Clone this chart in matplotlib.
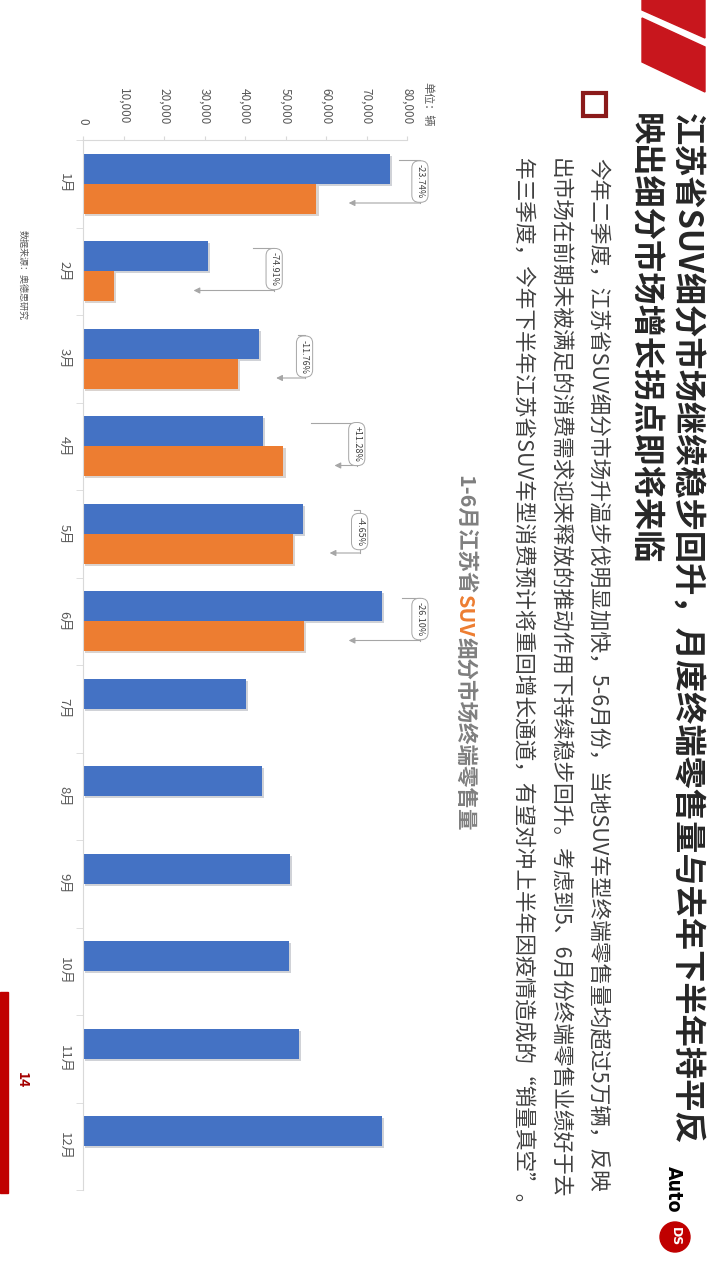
import numpy as np
import matplotlib
matplotlib.use('Agg')
import matplotlib.pyplot as plt
import matplotlib.patheffects as pe
from matplotlib.patches import Polygon, Rectangle, Ellipse

plt.rcParams['font.family'] = ['Noto Sans CJK SC', 'DejaVu Sans']

# data (units: vehicles)
months = ['1月', '2月', '3月', '4月', '5月', '6月',
          '7月', '8月', '9月', '10月', '11月', '12月']
sales_2019 = [75780, 30800, 43480, 44470, 54410, 73790,
              40250, 44220, 51180, 50930, 53420, 73790]
sales_2020 = [57640, 7730, 38370, 49490, 51880, 54530]
yoy_labels = ['-23.74%', '-74.91%', '-11.76%', '+11.28%', '-4.65%', '-26.10%']

# elbow connectors for the yoy notes (x in value units)
ann_start = [78000, 42000, 53200, 56400, 66800, 78800]
ann_mid = [83200, 47200, 54700, 67600, 68300, 83200]
ann_end = [65600, 27300, 47700, 62100, 60900, 65600]

title_lines = ['江苏省SUV细分市场继续稳步回升，月度终端零售量与去年下半年持平反',
               '映出细分市场增长拐点即将来临']
body_lines = ['今年二季度，江苏省SUV细分市场升温步伐明显加快，5-6月份，当地SUV车型终端零售量均超过5万辆，反映',
              '出市场在前期未被满足的消费需求迎来释放的推动作用下持续稳步回升。考虑到5、6月份终端零售业绩好于去',
              '年三季度，今年下半年江苏省SUV车型消费预计将重回增长通道，有望对冲上半年因疫情造成的“销量真空”。']

BLUE = '#4472C4'
ORANGE = '#ED7D31'
GRAY = '#595959'
LINE = '#A6A6A6'
RED = '#C8161D'

W, H = 720, 1280
fig = plt.figure(figsize=(7.2, 12.8), dpi=100)
fig.patch.set_facecolor('white')


def fx(x):
    return x / W


def fy(y):
    return 1 - y / H


def vtext(x, y, s, **kw):
    # text rotated to read top-to-bottom, anchored at its top
    return fig.text(fx(x), fy(y), s, rotation=-90, ha='center', va='top', **kw)


# ---- chart ----
ax = fig.add_axes([fx(83), fy(1190), (407 - 83) / W, (1190 - 140) / H])
ypos = np.arange(len(months))
h = 0.343
shadow = [pe.SimplePatchShadow(offset=(1.5, -1.5), alpha=0.2), pe.Normal()]
ax.barh(ypos - h / 2, sales_2019, height=h, color=BLUE, path_effects=shadow)
ax.barh(ypos[:len(sales_2020)] + h / 2, sales_2020, height=h, color=ORANGE,
        path_effects=shadow)
ax.set_xlim(0, 80000)
ax.set_ylim(len(months) - 0.5, -0.5)

ax.xaxis.tick_top()
xt = np.arange(0, 80001, 10000)
ax.set_xticks(xt, [f'{v:,}' for v in xt])
ax.tick_params(axis='x', length=3, color='#D9D9D9', labelsize=8.5,
               labelcolor=GRAY, pad=8, labelrotation=-90)
ax.set_yticks(ypos, months)
ax.set_yticks(np.arange(-0.5, len(months), 1), minor=True)
ax.tick_params(axis='y', which='major', length=0, labelsize=9.5,
               labelcolor=GRAY, pad=9, labelrotation=-90)
ax.tick_params(axis='y', which='minor', length=5, color='#D9D9D9')
for t in ax.get_yticklabels():
    t.set_va('center')
for t in ax.get_xticklabels():
    t.set_ha('center')
    t.set_va('bottom')
for side in ['right', 'bottom']:
    ax.spines[side].set_visible(False)
for side in ['left', 'top']:
    ax.spines[side].set_color('#D9D9D9')
    ax.spines[side].set_linewidth(0.8)

for i, lab in enumerate(yoy_labels):
    y_top = i - 0.27
    y_bot = i + 0.22
    ax.plot([ann_start[i], ann_mid[i], ann_mid[i]], [y_top, y_top, y_bot],
            color=LINE, lw=0.8, clip_on=False)
    ax.annotate('', xy=(ann_end[i], y_bot), xytext=(ann_mid[i], y_bot),
                arrowprops=dict(arrowstyle='-|>', color=LINE, lw=0.8,
                                mutation_scale=9, shrinkA=0, shrinkB=0),
                annotation_clip=False)
    ax.text(ann_mid[i], (y_top + y_bot) / 2, lab, rotation=-90, ha='center',
            va='center', fontsize=6.5, color='#404040', clip_on=False,
            bbox=dict(boxstyle='round,pad=0.4,rounding_size=0.8', fc='white',
                      ec=LINE, lw=0.7))

vtext(428, 82, '单位：辆', fontsize=8, color=GRAY)
vtext(22, 230, '数据来源：奥德思研究', fontsize=6.5, color=GRAY)

# ---- chart title with orange SUV ----
renderer = fig.canvas.get_renderer()
y = 475
for s, c in [('1-6月江苏省', '#7F7F7F'), ('SUV', ORANGE), ('细分市场终端零售量', '#7F7F7F')]:
    t = vtext(465, y, s, fontsize=15.5, fontweight='bold', color=c)
    y += t.get_window_extent(renderer).height

# ---- slide text ----
for x, s in zip([686, 644], title_lines):
    vtext(x, 113, s, fontsize=23.2, fontweight='bold', color='#262626')
for x, s in zip([597, 559, 521], body_lines):
    vtext(x, 158, s, fontsize=15.6, color='#404040')

# ---- slide decorations ----
fig.patches.append(Polygon([(fx(642), fy(0)), (fx(705), fy(0)), (fx(705), fy(38)), (fx(642), fy(10))],
                           closed=True, color=RED, transform=fig.transFigure))
fig.patches.append(Polygon([(fx(642), fy(18)), (fx(705), fy(47)), (fx(705), fy(92)), (fx(642), fy(62))],
                           closed=True, color=RED, transform=fig.transFigure))
fig.patches.append(Rectangle((fx(0), fy(1193)), fx(8), (1193 - 992) / H,
                             color='#C00000', transform=fig.transFigure))
fig.patches.append(Rectangle((fx(583), fy(116)), 23 / W, 23 / H, fill=False,
                             ec='#8B1A1A', lw=3, transform=fig.transFigure))
vtext(22, 1072, '14', fontsize=10, fontweight='bold', color='#A50000')

# logo
vtext(673, 1166, 'Auto', fontsize=14, fontweight='heavy', color='black',
      family='DejaVu Sans', fontstretch='condensed')
fig.patches.append(Ellipse((fx(675), fy(1237)), 30 / W, 30 / H, color='#C00000',
                           transform=fig.transFigure))
fig.text(fx(675), fy(1237), 'DS', rotation=-90, ha='center', va='center',
         fontsize=9, fontweight='bold', color='white', family='DejaVu Sans')

fig.savefig('out.png', dpi=100)
